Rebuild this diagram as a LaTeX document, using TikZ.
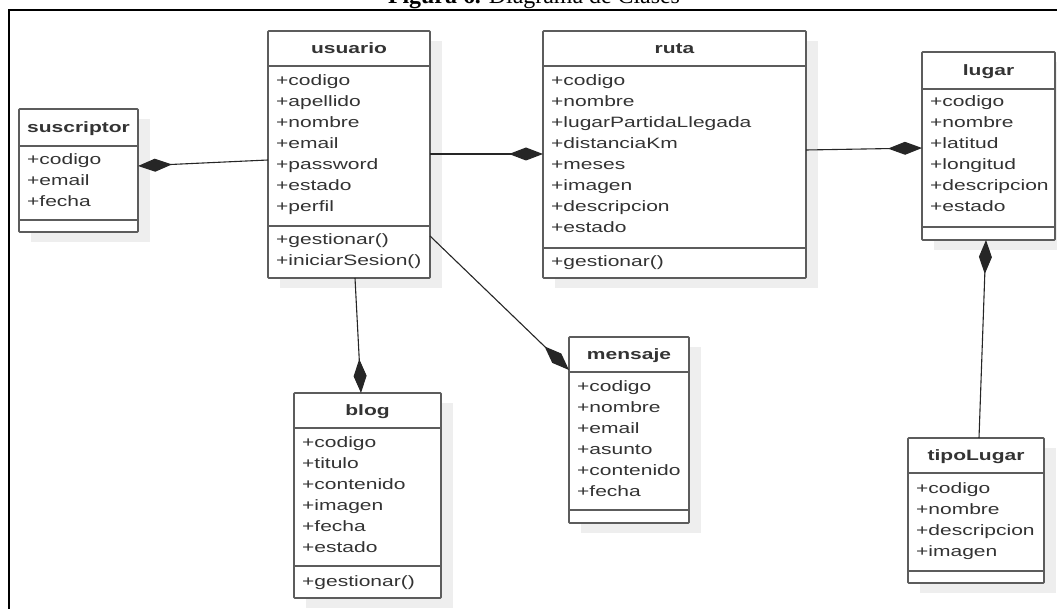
\documentclass[tikz,border=0pt]{standalone}
\usepackage{fontspec}
\newfontfamily\umlfont{Liberation Sans}[FakeStretch=1.4]
\newfontfamily\capfont{Liberation Serif}
\usetikzlibrary{arrows.meta,fit}
\definecolor{umlline}{HTML}{5C5C5C}
\definecolor{umltext}{HTML}{333333}
\definecolor{umlshadow}{HTML}{EEEEEE}

\tikzset{
  classbox/.style={draw=umlline, line width=1.6pt, fill=white, inner sep=0pt, outer sep=0pt, rounded corners=0.8pt},
  sepline/.style={draw=umlline, line width=1.6pt},
  attr/.style={anchor=base west, inner sep=0pt, text=umltext, font=\umlfont\fontsize{15}{18}\selectfont},
  classtitle/.style={anchor=base, inner sep=0pt, text=umltext, font=\umlfont\bfseries\fontsize{15}{18}\selectfont},
  compo/.style={draw=black!85, line width=1.1pt, {Diamond[length=34pt,width=13pt]}-},
  frameline/.style={draw=black, line width=2pt},
}

% class box: name, left, top, right, bottom (y grows downwards)
\newcommand\umlbox[5]{%
  \fill[umlshadow] (#2+12,#3+10) rectangle (#4+12,#5+10);
  \node[classbox, fit={(#2,#3) (#4,#5)}] (#1) {};}
% compartment separator: box name, y
\newcommand\umlsep[2]{\draw[sepline] (#1.west |- 0,#2) -- (#1.east |- 0,#2);}
% rows of text: prefix, x, first baseline, list
\newcommand\umlrows[4]{%
  \foreach \t [count=\k from 0] in {#4} \node[attr] (#1-\k) at (#2,#3+21*\k) {\t};}

\begin{document}
\begin{tikzpicture}[x=1pt,y=-1pt]
\useasboundingbox (0,0) rectangle (1057,609);

% caption and frame
\node[anchor=base, inner sep=0pt, font=\capfont] (caption) at (534,3.5)
  {\resizebox{292pt}{!}{\textbf{Figura 6.} Diagrama de Clases}};
\draw[frameline] (9,630) -- (9,10) -- (1080,10);

% suscriptor
\umlbox{suscriptor}{19}{109}{138}{232}
\umlsep{suscriptor}{146}
\umlsep{suscriptor}{220}
\node[classtitle] (suscriptor-t) at (78.5,132.5) {suscriptor};
\umlrows{suscriptor-a}{27}{165}{+codigo,+email,+fecha}

% usuario
\umlbox{usuario}{268}{31}{430}{278}
\umlsep{usuario}{66}
\umlsep{usuario}{226}
\node[classtitle] (usuario-t) at (349,53.5) {usuario};
\umlrows{usuario-a}{276}{86}{+codigo,+apellido,+nombre,+email,+password,+estado,+perfil}
\umlrows{usuario-m}{276}{245}{+gestionar(),+iniciarSesion()}

% ruta
\umlbox{ruta}{543}{31}{806}{278}
\umlsep{ruta}{66}
\umlsep{ruta}{248}
\node[classtitle] (ruta-t) at (674.5,53.5) {ruta};
\umlrows{ruta-a}{551}{86}{+codigo,+nombre,+lugarPartidaLlegada,+distanciaKm,+meses,+imagen,+descripcion,+estado}
\umlrows{ruta-m}{551}{267}{+gestionar()}

% lugar
\umlbox{lugar}{922}{52}{1055}{240}
\umlsep{lugar}{89}
\umlsep{lugar}{227}
\node[classtitle] (lugar-t) at (988.5,75.5) {lugar};
\umlrows{lugar-a}{930}{107}{+codigo,+nombre,+latitud,+longitud,+descripcion,+estado}

% tipoLugar
\umlbox{tipoLugar}{908}{438}{1044}{583}
\umlsep{tipoLugar}{473}
\umlsep{tipoLugar}{571}
\node[classtitle] (tipoLugar-t) at (976,460.5) {tipoLugar};
\umlrows{tipoLugar-a}{916}{493}{+codigo,+nombre,+descripcion,+imagen}

% blog
\umlbox{blog}{294}{393}{441}{598}
\umlsep{blog}{428}
\umlsep{blog}{566}
\node[classtitle] (blog-t) at (367.5,415.5) {blog};
\umlrows{blog-a}{302}{447}{+codigo,+titulo,+contenido,+imagen,+fecha,+estado}
\umlrows{blog-m}{302}{586}{+gestionar()}

% mensaje
\umlbox{mensaje}{569}{337}{689}{523}
\umlsep{mensaje}{372}
\umlsep{mensaje}{510}
\node[classtitle] (mensaje-t) at (629,359.5) {mensaje};
\umlrows{mensaje-a}{577}{391}{+codigo,+nombre,+email,+asunto,+contenido,+fecha}

% compositions (diamond at the whole)
\draw[compo] (suscriptor.east |- 0,166) -- (usuario.west |- 0,160);
\draw[compo] (ruta.west |- 0,154) -- (usuario.east |- 0,154);
\draw[compo] (lugar.west |- 0,148) -- (ruta.east |- 0,150);
\draw[compo] (lugar.south -| 986,0) -- (tipoLugar.north -| 979,0);
\draw[compo] (blog.north -| 361,0) -- (usuario.south -| 355,0);
\draw[compo] (mensaje.west |- 0,370) -- (usuario.east |- 0,236);
\end{tikzpicture}
\end{document}
